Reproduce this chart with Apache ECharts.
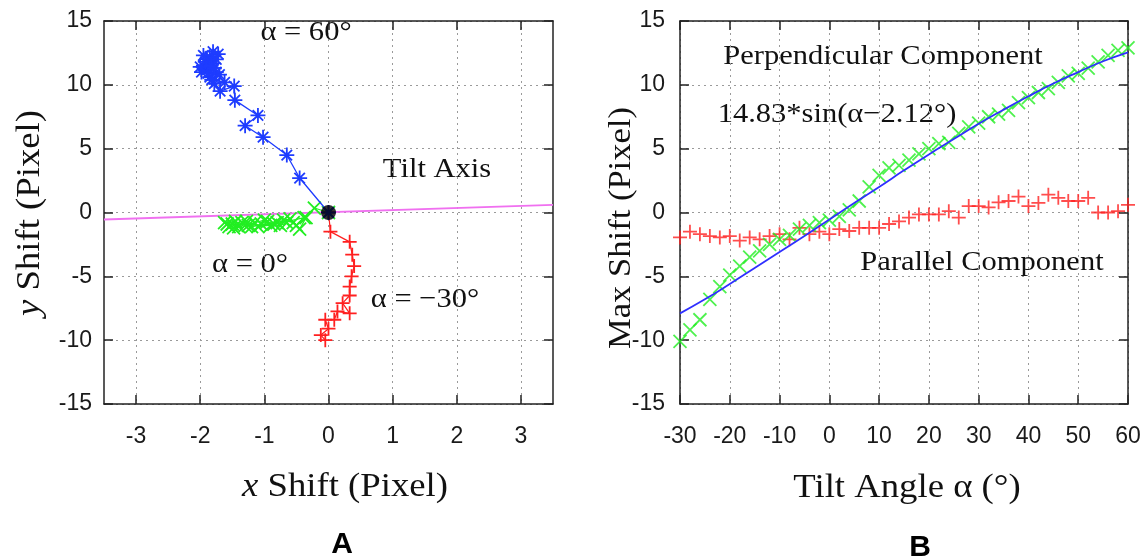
<!DOCTYPE html>
<html><head><meta charset="utf-8">
<script src="https://cdn.jsdelivr.net/npm/echarts@6/dist/echarts.min.js"></script>
<style>html,body{margin:0;padding:0;background:#fff}#c{width:1146px;height:560px}</style>
</head><body><div id="c"></div>
<script>
// ---------- Panel A data ----------
const xTicksA = [-3, -2, -1, 0, 1, 2, 3];
const tiltAxisX = [-3.5, 3.5];
const tiltAxisY = [-0.55, 0.6];
const blueX = [0, -0.45, -0.65, -1.02, -1.3, -1.1, -1.46, -1.47, -1.69, -1.78, -1.85, -1.9, -1.75, -1.8, -1.95, -1.85, -1.72, -1.8, -1.9, -1.98, -1.7, -1.82, -1.62, -1.92, -1.75, -1.88, -2.0, -1.83, -1.95, -1.78];
const blueY = [0, 2.7, 4.5, 5.9, 6.8, 7.6, 8.8, 9.9, 9.5, 10.1, 10.6, 11.2, 11.0, 11.7, 11.5, 12.2, 12.4, 12.6, 12.0, 11.0, 10.8, 10.4, 10.2, 11.8, 12.0, 10.9, 11.4, 11.5, 12.3, 11.3];
const greenAX = [0, -0.22, -0.35, -0.45, -0.55, -0.7, -0.85, -0.95, -1.05, -1.0, -1.15, -1.25, -1.35, -1.4, -1.5, -1.55, -1.62, -1.45, -1.3, -1.2, -0.8, -0.6, -0.5, -0.38, -0.9, -1.1, -1.28, -1.48, -1.58, -0.75, -0.65];
const greenAY = [0, 0.35, -0.4, -1.3, -0.8, -0.6, -0.9, -0.7, -0.9, -0.6, -0.8, -1.0, -0.8, -1.1, -0.9, -1.1, -0.8, -0.7, -1.0, -1.1, -0.8, -0.5, -1.0, -0.4, -1.0, -1.1, -0.7, -1.2, -0.9, -1.0, -0.8];
const redAX = [0, 0.03, 0.33, 0.37, 0.4, 0.36, 0.33, 0.33, 0.22, 0.33, 0.14, 0.09, -0.05, 0.0, -0.12, -0.05];
const redAY = [0, -1.5, -2.3, -3.3, -4.2, -5.0, -5.8, -6.5, -7.1, -7.9, -7.75, -8.4, -8.4, -9.1, -9.6, -10.0];
const originX = [0];
const originY = [0];

// ---------- Panel B data ----------
const yTicks = [-15, -10, -5, 0, 5, 10, 15];
const tiltAngles = [-30, -28, -26, -24, -22, -20, -18, -16, -14, -12, -10, -8, -6, -4, -2, 0, 2, 4, 6, 8, 10, 12, 14, 16, 18, 20, 22, 24, 26, 28, 30, 32, 34, 36, 38, 40, 42, 44, 46, 48, 50, 52, 54, 56, 58, 60];
const perpendicular = [-10.1, -9.2, -8.4, -6.8, -5.8, -4.9, -4.2, -3.5, -3.0, -2.5, -2.1, -1.8, -1.3, -1.0, -0.8, -0.6, -0.3, 0.2, 0.9, 2.0, 2.9, 3.5, 3.7, 4.1, 4.6, 5.0, 5.4, 5.5, 6.2, 6.7, 7.0, 7.5, 7.7, 8.0, 8.6, 9.0, 9.4, 9.7, 10.2, 10.7, 10.9, 11.3, 11.8, 12.3, 12.7, 12.9];
const parallel = [-1.95, -1.5, -1.7, -1.85, -1.95, -1.85, -2.2, -1.95, -2.1, -1.85, -1.7, -2.1, -1.2, -1.7, -1.5, -1.7, -1.3, -1.45, -1.2, -1.2, -1.2, -0.9, -0.7, -0.4, -0.15, -0.15, -0.15, 0.1, -0.4, 0.5, 0.5, 0.4, 0.8, 0.9, 1.25, 0.5, 0.75, 1.4, 1.15, 0.9, 0.9, 1.15, 0.0, 0.0, 0.1, 0.6];
const fitAngles = [-30, -25, -20, -15, -10, -5, 0, 5, 10, 15, 20, 25, 30, 35, 40, 45, 50, 55, 60];
const fitValues = [-7.9, -6.8, -5.6, -4.35, -3.1, -1.85, -0.55, 0.75, 2.0, 3.3, 4.55, 5.75, 6.95, 8.05, 9.1, 10.1, 11.0, 11.85, 12.55];

const zip = (xs, ys) => xs.map((x, i) => [x, ys[i]]);

const AX = '#222';
const tickFont = {fontFamily: 'Liberation Sans', fontSize: 23, color: '#1a1a1a'};
const grid = {lineStyle: {type: [2, 4], color: '#9a9a9a', width: 1}};

function xAxisPair(gi, min, max, interval, custom) {
  const base = {gridIndex: gi, type: 'value', min: min, max: max};
  if (interval) base.interval = interval;
  const bottom = Object.assign({}, base, {
    position: 'bottom',
    axisLine: {show: true, onZero: false, lineStyle: {color: AX, width: 1.5}},
    axisTick: {show: true, inside: true, length: 9, lineStyle: {color: AX, width: 1.5}},
    axisLabel: Object.assign({margin: 21}, tickFont),
    splitLine: Object.assign({show: true}, grid)
  });
  const top = Object.assign({}, base, {
    position: 'top',
    axisLine: {show: true, onZero: false, lineStyle: {color: AX, width: 1.5}},
    axisTick: {show: true, inside: true, length: 9, lineStyle: {color: AX, width: 1.5}},
    axisLabel: {show: false},
    splitLine: {show: false}
  });
  if (custom) {
    bottom.axisTick.customValues = custom;
    bottom.axisLabel.customValues = custom;
    top.axisTick.customValues = custom;
  }
  return [bottom, top];
}
function yAxisPair(gi, margin) {
  const base = {gridIndex: gi, type: 'value', min: -15, max: 15, interval: 5};
  return [
    Object.assign({}, base, {
      position: 'left',
      axisLine: {show: true, onZero: false, lineStyle: {color: AX, width: 1.5}},
      axisTick: {show: true, inside: true, length: 9, lineStyle: {color: AX, width: 1.5}},
      axisLabel: Object.assign({margin: margin}, tickFont),
      splitLine: Object.assign({show: true}, grid)
    }),
    Object.assign({}, base, {
      position: 'right',
      axisLine: {show: true, onZero: false, lineStyle: {color: AX, width: 1.5}},
      axisTick: {show: true, inside: true, length: 9, lineStyle: {color: AX, width: 1.5}},
      axisLabel: {show: false},
      splitLine: {show: false}
    })
  ];
}

const CROSS = 'path://M0,0L10,10M0,10L10,0';
const PLUS = 'path://M5,0L5,10M0,5L10,5';
const STAR = 'path://M5,0L5,10M0,5L10,5M1.5,1.5L8.5,8.5M1.5,8.5L8.5,1.5';
const BLUE = '#1e3cff', GREEN = '#22ee22', RED = '#ff2020', MAGENTA = '#f070f0';

function marks(c, w) { return {color: c, borderColor: c, borderWidth: w || 1.8}; }

const serif = 'Liberation Serif';
function label(text, x, y, size, opts) {
  return Object.assign({
    type: 'text', x: x, y: y, scaleX: 1.09,
    style: {text: text, font: size + 'px "' + serif + '"', fill: '#111', textAlign: 'center', textVerticalAlign: 'middle'}
  }, opts || {});
}

const chart = echarts.init(document.getElementById('c'), null, {renderer: 'canvas'});
chart.setOption({
  animation: false,
  backgroundColor: '#fff',
  grid: [
    {left: 104, top: 21, width: 449, height: 383},
    {left: 680, top: 21, width: 448, height: 383}
  ],
  xAxis: [].concat(xAxisPair(0, -3.5, 3.5, null, xTicksA), xAxisPair(1, -30, 60, 10, null)),
  yAxis: [].concat(yAxisPair(0, 12), yAxisPair(1, 15)),
  series: [
    {type: 'line', xAxisIndex: 0, yAxisIndex: 0, data: zip(tiltAxisX, tiltAxisY), showSymbol: false,
     lineStyle: {color: MAGENTA, width: 1.8}, z: 2},
    {type: 'line', xAxisIndex: 0, yAxisIndex: 0, data: zip(greenAX, greenAY), symbol: CROSS, symbolSize: 13,
     itemStyle: marks(GREEN), lineStyle: {color: GREEN, width: 1.2}, z: 3},
    {type: 'line', xAxisIndex: 0, yAxisIndex: 0, data: zip(redAX, redAY), symbol: PLUS, symbolSize: 14,
     itemStyle: marks(RED), lineStyle: {color: RED, width: 1.2}, z: 3},
    {type: 'line', xAxisIndex: 0, yAxisIndex: 0, data: zip(blueX, blueY), symbol: STAR, symbolSize: 15,
     itemStyle: marks(BLUE), lineStyle: {color: BLUE, width: 1.3}, z: 4},
    {type: 'scatter', xAxisIndex: 0, yAxisIndex: 0, data: zip(originX, originY), symbol: 'circle', symbolSize: 15,
     itemStyle: {color: '#000'}, z: 6},

    {type: 'scatter', xAxisIndex: 2, yAxisIndex: 2, data: zip(tiltAngles, parallel), symbol: PLUS, symbolSize: 14,
     itemStyle: marks(RED), z: 3},
    {type: 'scatter', xAxisIndex: 2, yAxisIndex: 2, data: zip(tiltAngles, perpendicular), symbol: CROSS, symbolSize: 13,
     itemStyle: marks(GREEN), z: 3},
    {type: 'line', xAxisIndex: 2, yAxisIndex: 2, data: zip(fitAngles, fitValues), showSymbol: false, smooth: true,
     lineStyle: {color: '#2f2fff', width: 1.8}, z: 4}
  ],
  graphic: [
    label('α = 60°', 306, 33, 28),
    label('Tilt Axis', 437, 170, 28),
    label('α = 0°', 250, 265, 28),
    label('α = −30°', 425, 300, 28),
    label('Perpendicular Component', 883, 57, 28),
    label('14.83*sin(α−2.12°)', 837, 115, 28),
    label('Parallel Component', 982, 263, 28),
    {type: 'text', x: 30, y: 213, rotation: Math.PI / 2, scaleX: 1.08,
     style: {text: '{i|y} Shift (Pixel)', font: '34px "Liberation Serif"', fill: '#111', textAlign: 'center', textVerticalAlign: 'middle',
       rich: {i: {fontStyle: 'italic', fontFamily: 'Liberation Serif', fontSize: 34}}}},
    {type: 'text', x: 345, y: 487, scaleX: 1.08,
     style: {text: '{i|x} Shift (Pixel)', font: '34px "Liberation Serif"', fill: '#111', textAlign: 'center', textVerticalAlign: 'middle',
       rich: {i: {fontStyle: 'italic', fontFamily: 'Liberation Serif', fontSize: 34}}}},
    {type: 'text', x: 622, y: 228, rotation: Math.PI / 2, scaleX: 1.08,
     style: {text: 'Max Shift (Pixel)', font: '32px "Liberation Serif"', fill: '#111', textAlign: 'center', textVerticalAlign: 'middle'}},
    {type: 'text', x: 907, y: 488, scaleX: 1.08,
     style: {text: 'Tilt Angle α (°)', font: '34px "Liberation Serif"', fill: '#111', textAlign: 'center', textVerticalAlign: 'middle'}},
    {type: 'text', x: 342, y: 545,
     style: {text: 'A', font: 'bold 30px "Liberation Sans"', fill: '#000', textAlign: 'center', textVerticalAlign: 'middle'}},
    {type: 'text', x: 920, y: 548,
     style: {text: 'B', font: 'bold 30px "Liberation Sans"', fill: '#000', textAlign: 'center', textVerticalAlign: 'middle'}}
  ]
});
</script>
</body></html>
